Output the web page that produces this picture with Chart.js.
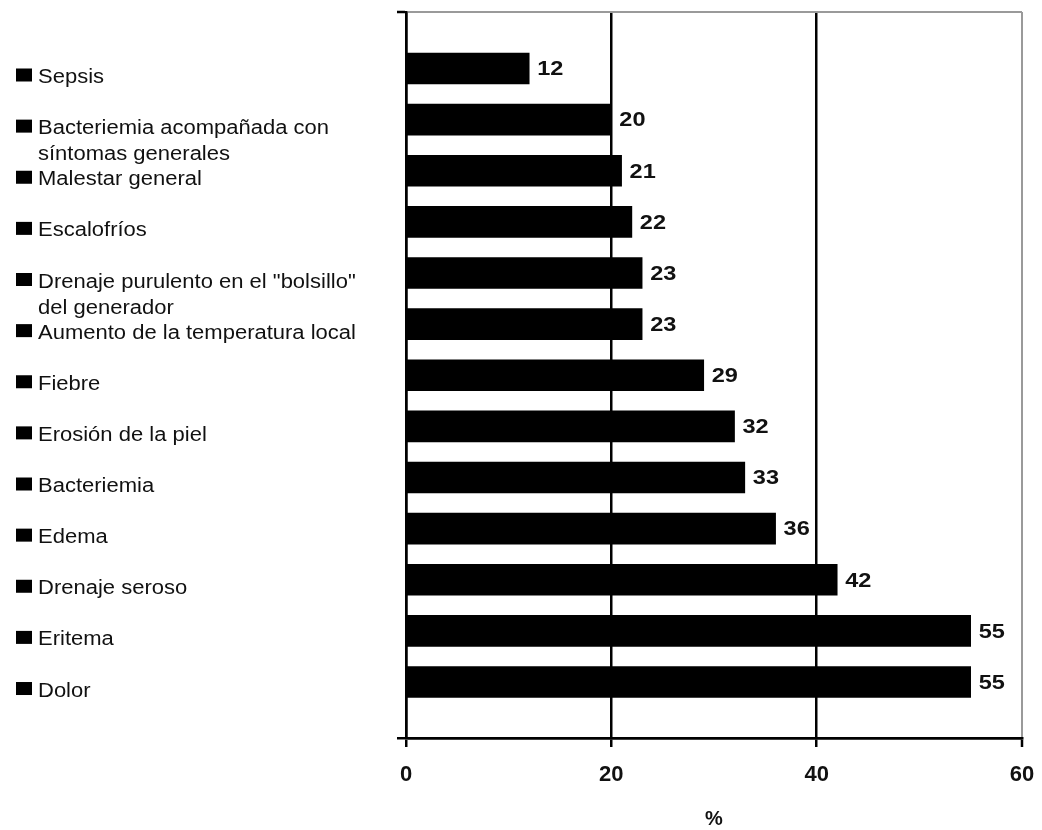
<!DOCTYPE html>
<html>
<head>
<meta charset="utf-8">
<script src="https://cdn.jsdelivr.net/npm/chart.js@4/dist/chart.umd.min.js"></script>
<style>
  html, body { margin: 0; padding: 0; background: #fff; }
  canvas { display: block; }
</style>
</head>
<body>
<canvas id="c" width="1042" height="830"></canvas>
<script>
const categories = [
  ["Sepsis"],
  ["Bacteriemia acompañada con", "síntomas generales"],
  ["Malestar general"],
  ["Escalofríos"],
  ["Drenaje purulento en el \"bolsillo\"", "del generador"],
  ["Aumento de la temperatura local"],
  ["Fiebre"],
  ["Erosión de la piel"],
  ["Bacteriemia"],
  ["Edema"],
  ["Drenaje seroso"],
  ["Eritema"],
  ["Dolor"]
];
const values = [12, 20, 21, 22, 23, 23, 29, 32, 33, 36, 42, 55, 55];
const xTicks = [0, 20, 40, 60];
const axisTitle = "%";

const BLACK = "#000";
const GRAY = "#9a9a9a";
const TEXT = "#111";

const labelsPlugin = {
  id: "sideLabels",
  afterDatasetsDraw(chart) {
    const ctx = chart.ctx;
    const ys = chart.scales.y;
    const meta = chart.getDatasetMeta(0);
    ctx.save();
    categories.forEach((lines, i) => {
      const c = ys.getPixelForValue(i);
      ctx.fillStyle = BLACK;
      ctx.fillRect(16, c, 16, 13);
      ctx.fillStyle = TEXT;
      ctx.font = "20px 'Liberation Sans', Arial, sans-serif";
      ctx.textBaseline = "alphabetic";
      ctx.textAlign = "left";
      lines.forEach((ln, k) => {
        ctx.save();
        ctx.translate(38, c + 14.5 + k * 26);
        ctx.scale(1.1, 1);
        ctx.fillText(ln, 0, 0);
        ctx.restore();
      });
    });
    meta.data.forEach((bar, i) => {
      ctx.save();
      ctx.fillStyle = TEXT;
      ctx.font = "bold 21px 'Liberation Sans', Arial, sans-serif";
      ctx.textBaseline = "middle";
      ctx.textAlign = "left";
      ctx.translate(bar.x + 8, bar.y + 1);
      ctx.scale(1.12, 1);
      ctx.fillText(String(values[i]), 0, 0);
      ctx.restore();
    });
    ctx.restore();
  }
};

new Chart(document.getElementById("c"), {
  type: "bar",
  data: {
    datasets: [{
      data: values.map((v, i) => ({ x: v, y: i })),
      backgroundColor: BLACK,
      borderWidth: 0,
      barThickness: 31
    }]
  },
  options: {
    indexAxis: "y",
    responsive: false,
    animation: false,
    events: [],
    layout: { padding: { top: 12, right: 20, left: 0, bottom: 0 } },
    plugins: { legend: { display: false }, tooltip: { enabled: false } },
    scales: {
      x: {
        type: "linear",
        position: "bottom",
        min: xTicks[0],
        max: xTicks[xTicks.length - 1],
        afterBuildTicks: (s) => { s.ticks = xTicks.map(v => ({ value: v })); },
        afterFit: (s) => { s.height = 92; s.paddingLeft = 0; s.paddingRight = 0; },
        ticks: {
          color: TEXT,
          padding: 15,
          maxRotation: 0,
          font: { family: "'Liberation Sans', Arial, sans-serif", size: 22, weight: "bold" }
        },
        grid: {
          color: (c) => (c.tick && c.tick.value === 60 ? GRAY : BLACK),
          lineWidth: (c) => (c.tick && c.tick.value === 60 ? 2 : 2.5),
          tickColor: BLACK,
          tickLength: 9,
          tickWidth: 2.5,
          drawTicks: true
        },
        border: { display: true, color: BLACK, width: 2.5 },
        title: {
          display: true,
          text: axisTitle,
          color: TEXT,
          padding: { top: 0, bottom: 0 },
          font: { family: "'Liberation Sans', Arial, sans-serif", size: 20, weight: "bold", lineHeight: "22px" }
        }
      },
      y: {
        type: "linear",
        position: "left",
        reverse: true,
        offset: false,
        min: -1.105,
        max: 13.095,
        afterBuildTicks: (s) => { s.ticks = [{ value: s.min }, { value: s.max }]; },
        afterFit: (s) => { s.width = 406; s.paddingTop = 0; s.paddingBottom = 0; },
        ticks: { display: false },
        grid: {
          offset: false,
          color: (c) => (c.index === 0 ? GRAY : BLACK),
          lineWidth: (c) => (c.index === 0 ? 2 : 2.5),
          tickColor: BLACK,
          tickLength: 9,
          tickWidth: 2.5,
          drawTicks: true
        },
        border: { display: true, color: BLACK, width: 2.5 }
      }
    }
  },
  plugins: [labelsPlugin]
});
</script>
</body>
</html>
